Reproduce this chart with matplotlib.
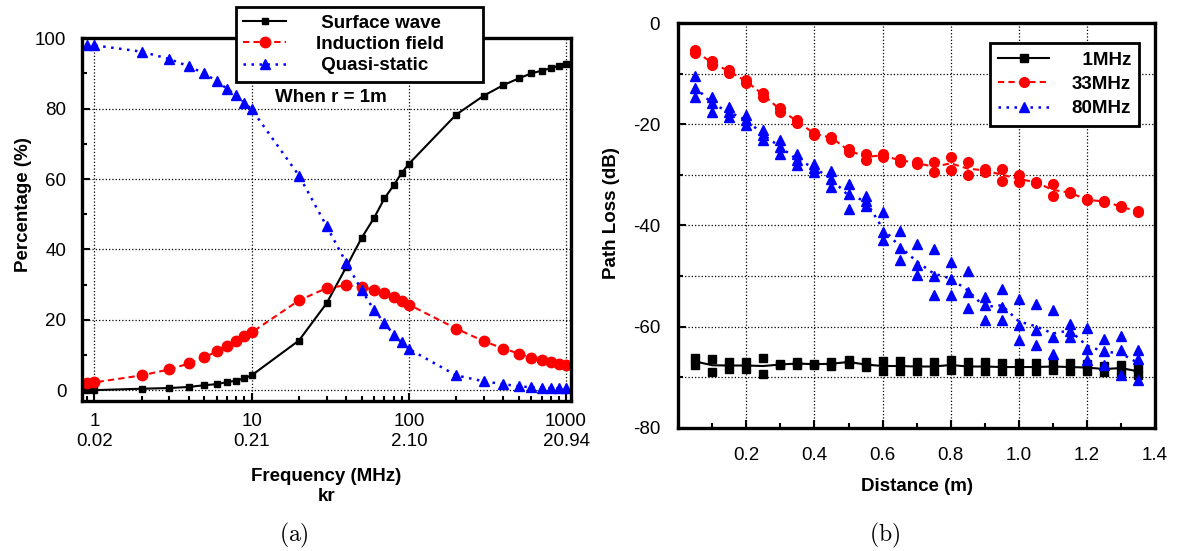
import numpy as np
import pandas as pd
import matplotlib
matplotlib.use("Agg")
import matplotlib.pyplot as plt
from matplotlib.lines import Line2D
from matplotlib.ticker import MultipleLocator, LogLocator, NullFormatter

plt.rcParams['font.family'] = ['Liberation Sans', 'DejaVu Sans']
plt.rcParams['mathtext.fontset'] = 'cm'
plt.rcParams['axes.unicode_minus'] = False

# ---- panel (a): field components vs frequency (r = 1 m) ----
freq = [0.9, 1, 2, 3, 4, 5, 6, 7, 8, 9, 10, 20, 30, 40, 50, 60, 70, 80, 90, 100,
        200, 300, 400, 500, 600, 700, 800, 900, 1000]
surface = [0.0, 0.0, 0.4, 0.6, 0.9, 1.4, 1.7, 2.3, 2.7, 3.4, 4.2, 14.1, 24.7, 35.0,
           43.2, 48.9, 54.5, 58.2, 61.7, 64.3, 78.3, 83.7, 86.7, 88.6, 90.0, 90.8,
           91.5, 92.2, 92.6]
induction = [2.0, 2.2, 4.2, 5.9, 7.6, 9.3, 11.0, 12.6, 14.0, 15.3, 16.4, 25.5, 29.0,
             29.8, 29.4, 28.5, 27.5, 26.4, 25.2, 24.3, 17.5, 13.9, 11.8, 10.4, 9.2,
             8.5, 8.0, 7.5, 7.1]
quasi = [98.0, 98.0, 96.2, 94.1, 92.0, 90.0, 87.8, 85.6, 83.8, 81.7, 79.8, 61.0, 46.6,
         36.2, 28.5, 22.8, 19.1, 15.8, 13.6, 11.7, 4.2, 2.5, 1.7, 1.1, 0.8, 0.7, 0.6,
         0.5, 0.5]
freq_ticks = [1, 10, 100, 1000]
kr_ticks = ['0.02', '0.21', '2.10', '20.94']

# ---- panel (b): measured path loss vs distance ----
distance = [0.05, 0.10, 0.15, 0.20, 0.25, 0.30, 0.35, 0.40, 0.45, 0.50, 0.55, 0.60,
            0.65, 0.70, 0.75, 0.80, 0.85, 0.90, 0.95, 1.00, 1.05, 1.10, 1.15, 1.20,
            1.25, 1.30, 1.35]
loss_1mhz = [
    [-66.3, -66.4, -67.0, -67.0, -66.3, -67.4, -67.0, -67.4, -67.0, -66.6, -67.1, -66.8,
     -66.8, -67.0, -67.0, -66.6, -67.0, -67.0, -67.2, -67.2, -67.2, -67.2, -67.2, -67.4,
     -67.8, -67.5, -68.2],
    [-67.5, -68.9, -68.4, -68.4, -69.3, -67.6, -67.6, -67.5, -67.7, -67.4, -67.9, -68.8,
     -68.8, -68.8, -68.8, -68.6, -68.8, -68.8, -68.8, -68.8, -68.8, -68.6, -68.8, -68.8,
     -69.0, -68.9, -69.5],
]
loss_33mhz = [
    [-5.2, -7.5, -9.2, -11.2, -13.8, -16.8, -19.1, -21.7, -22.5, -24.8, -25.9, -25.8,
     -26.8, -27.4, -27.4, -26.4, -27.4, -28.8, -28.8, -30.1, -31.4, -31.8, -33.4, -34.8,
     -35.1, -36.1, -37.1],
    [-5.8, -8.2, -9.8, -11.8, -14.5, -17.5, -19.7, -22.0, -22.8, -25.4, -27.0, -26.4,
     -27.4, -27.8, -29.4, -29.0, -30.1, -29.4, -31.1, -31.4, -31.6, -34.1, -33.6, -35.0,
     -35.4, -36.4, -37.4],
]
loss_80mhz = [
    [-10.5, -14.5, -16.5, -18.1, -21.1, -23.1, -25.9, -27.8, -29.3, -31.8, -34.1, -37.4,
     -41.1, -43.6, -44.7, -47.2, -49.0, -54.1, -52.5, -54.6, -55.5, -56.7, -59.5, -60.3,
     -62.4, -61.8, -64.7],
    [-12.8, -15.8, -17.6, -19.2, -22.0, -24.5, -27.0, -28.6, -30.8, -33.8, -35.1, -41.3,
     -44.4, -47.9, -50.0, -50.5, -53.1, -55.7, -56.1, -59.7, -60.7, -62.0, -60.8, -64.5,
     -64.9, -64.6, -66.4],
    [-14.5, -17.5, -18.6, -20.1, -23.0, -25.9, -28.1, -29.4, -32.4, -36.7, -36.1, -42.9,
     -46.9, -49.8, -53.8, -53.8, -56.4, -58.6, -58.7, -62.6, -63.6, -65.4, -62.0, -66.6,
     -67.5, -69.5, -70.5],
]

fig = plt.figure(figsize=(11.81, 5.51), dpi=100)
ax1 = fig.add_axes([0.0692, 0.2728, 0.4143, 0.6577])
ax2 = fig.add_axes([0.5743, 0.2238, 0.4037, 0.7339])

# panel (a)
ax1.plot(freq, surface, '-s', color='black', lw=1.5, ms=5, label=' Surface wave')
ax1.plot(freq, induction, 'o', color='red', ls=(0, (3, 2)), lw=1.5, ms=7.5,
         label='Induction field      ')
ax1.plot(freq, quasi, '^', color='blue', ls=(0, (1, 2.2)), lw=1.8, ms=7.5,
         label=' Quasi-static')
ax1.set_xscale('log')
ax1.set_xlim(0.83, 1076)
ax1.set_ylim(-3, 100)
ax1.set_xticks(freq_ticks)
ax1.set_xticklabels([f"{f}\n{k}" for f, k in zip(freq_ticks, kr_ticks)], linespacing=1.25)
ax1.xaxis.set_minor_locator(LogLocator(base=10, subs=np.arange(2, 10)))
ax1.xaxis.set_minor_formatter(NullFormatter())
ax1.set_yticks(np.arange(0, 101, 20))
ax1.yaxis.set_minor_locator(MultipleLocator(10))
ax1.grid(which='major', ls=':', color='black', lw=0.9)
ax1.set_axisbelow(True)
ax1.tick_params(which='both', direction='in', width=1.5, labelsize=13.5)
ax1.tick_params(which='major', length=6)
ax1.tick_params(which='minor', length=3.5)
ax1.tick_params(axis='x', pad=9)
ax1.tick_params(axis='y', pad=11)
for s in ax1.spines.values():
    s.set_linewidth(2.4)
ax1.set_xlabel("Frequency (MHz)\nkr", fontsize=13.5, fontweight='bold', linespacing=1.25)
ax1.xaxis.set_label_coords(0.5, -0.185)
ax1.set_ylabel("Percentage (%)", fontsize=13.5, fontweight='bold', va='center')
ax1.yaxis.set_label_coords(-0.12, 0.54)
ax1.text(0.51, 0.838, "When r = 1m", transform=ax1.transAxes, ha='center', va='center',
         fontsize=13.5, fontweight='bold')
leg1 = ax1.legend(loc='upper left', bbox_to_anchor=(0.315, 1.086), fancybox=False,
                  framealpha=1, edgecolor='black', prop={'weight': 'bold', 'size': 13.5},
                  handlelength=2.3, handletextpad=1.6, borderpad=0.4, labelspacing=0.22,
                  borderaxespad=0)
leg1.get_frame().set_linewidth(2)
leg1.set_clip_on(False)

# panel (b)
series = [
    (loss_1mhz, 'black', 's', '-', 1.5, 6, '  1MHz'),
    (loss_33mhz, 'red', 'o', (0, (3, 2)), 1.5, 7, '33MHz'),
    (loss_80mhz, 'blue', '^', (0, (1, 2.2)), 1.8, 7, '80MHz'),
]
handles = []
for runs, col, mk, ls, lw, ms, lab in series:
    df = pd.DataFrame(runs, columns=distance).T
    ax2.plot(distance, df.mean(axis=1), color=col, ls=ls, lw=lw)
    for run in runs:
        ax2.plot(distance, run, ls='none', marker=mk, color=col, ms=ms)
    handles.append(Line2D([], [], color=col, ls=ls, lw=lw, marker=mk, ms=ms, label=lab))

ax2.set_xlim(0, 1.4)
ax2.set_ylim(-80, 0)
ax2.set_xticks(np.arange(0.2, 1.41, 0.2))
ax2.set_xticklabels([f"{v:.1f}" for v in np.arange(0.2, 1.41, 0.2)])
ax2.xaxis.set_minor_locator(MultipleLocator(0.1))
ax2.set_yticks(np.arange(-80, 1, 20))
ax2.yaxis.set_minor_locator(MultipleLocator(10))
ax2.grid(which='major', ls=':', color='black', lw=0.9)
ax2.grid(which='minor', axis='y', ls=':', color='black', lw=0.9)
ax2.set_axisbelow(True)
ax2.tick_params(which='both', direction='in', width=1.5, labelsize=13.5)
ax2.tick_params(which='major', length=6)
ax2.tick_params(which='minor', length=3.5)
ax2.tick_params(axis='x', pad=14)
ax2.tick_params(axis='y', pad=13)
for s in ax2.spines.values():
    s.set_linewidth(2.4)
ax2.set_xlabel("Distance (m)", fontsize=13.5, fontweight='bold')
ax2.xaxis.set_label_coords(0.5, -0.125)
ax2.set_ylabel("Path Loss (dB)", fontsize=13.5, fontweight='bold', va='center')
ax2.yaxis.set_label_coords(-0.14, 0.53)
leg2 = ax2.legend(handles=handles, loc='upper left', bbox_to_anchor=(0.654, 0.951),
                  fancybox=False, framealpha=1, edgecolor='black',
                  prop={'weight': 'bold', 'size': 13.5}, handlelength=2.7,
                  handletextpad=1.2, borderpad=0.45, labelspacing=0.38, borderaxespad=0)
leg2.get_frame().set_linewidth(2)

fig.text(0.249, 0.029, r'$\mathrm{(a)}$', ha='center', va='center', fontsize=17)
fig.text(0.749, 0.029, r'$\mathrm{(b)}$', ha='center', va='center', fontsize=17)

fig.savefig("out.png", dpi=100)
